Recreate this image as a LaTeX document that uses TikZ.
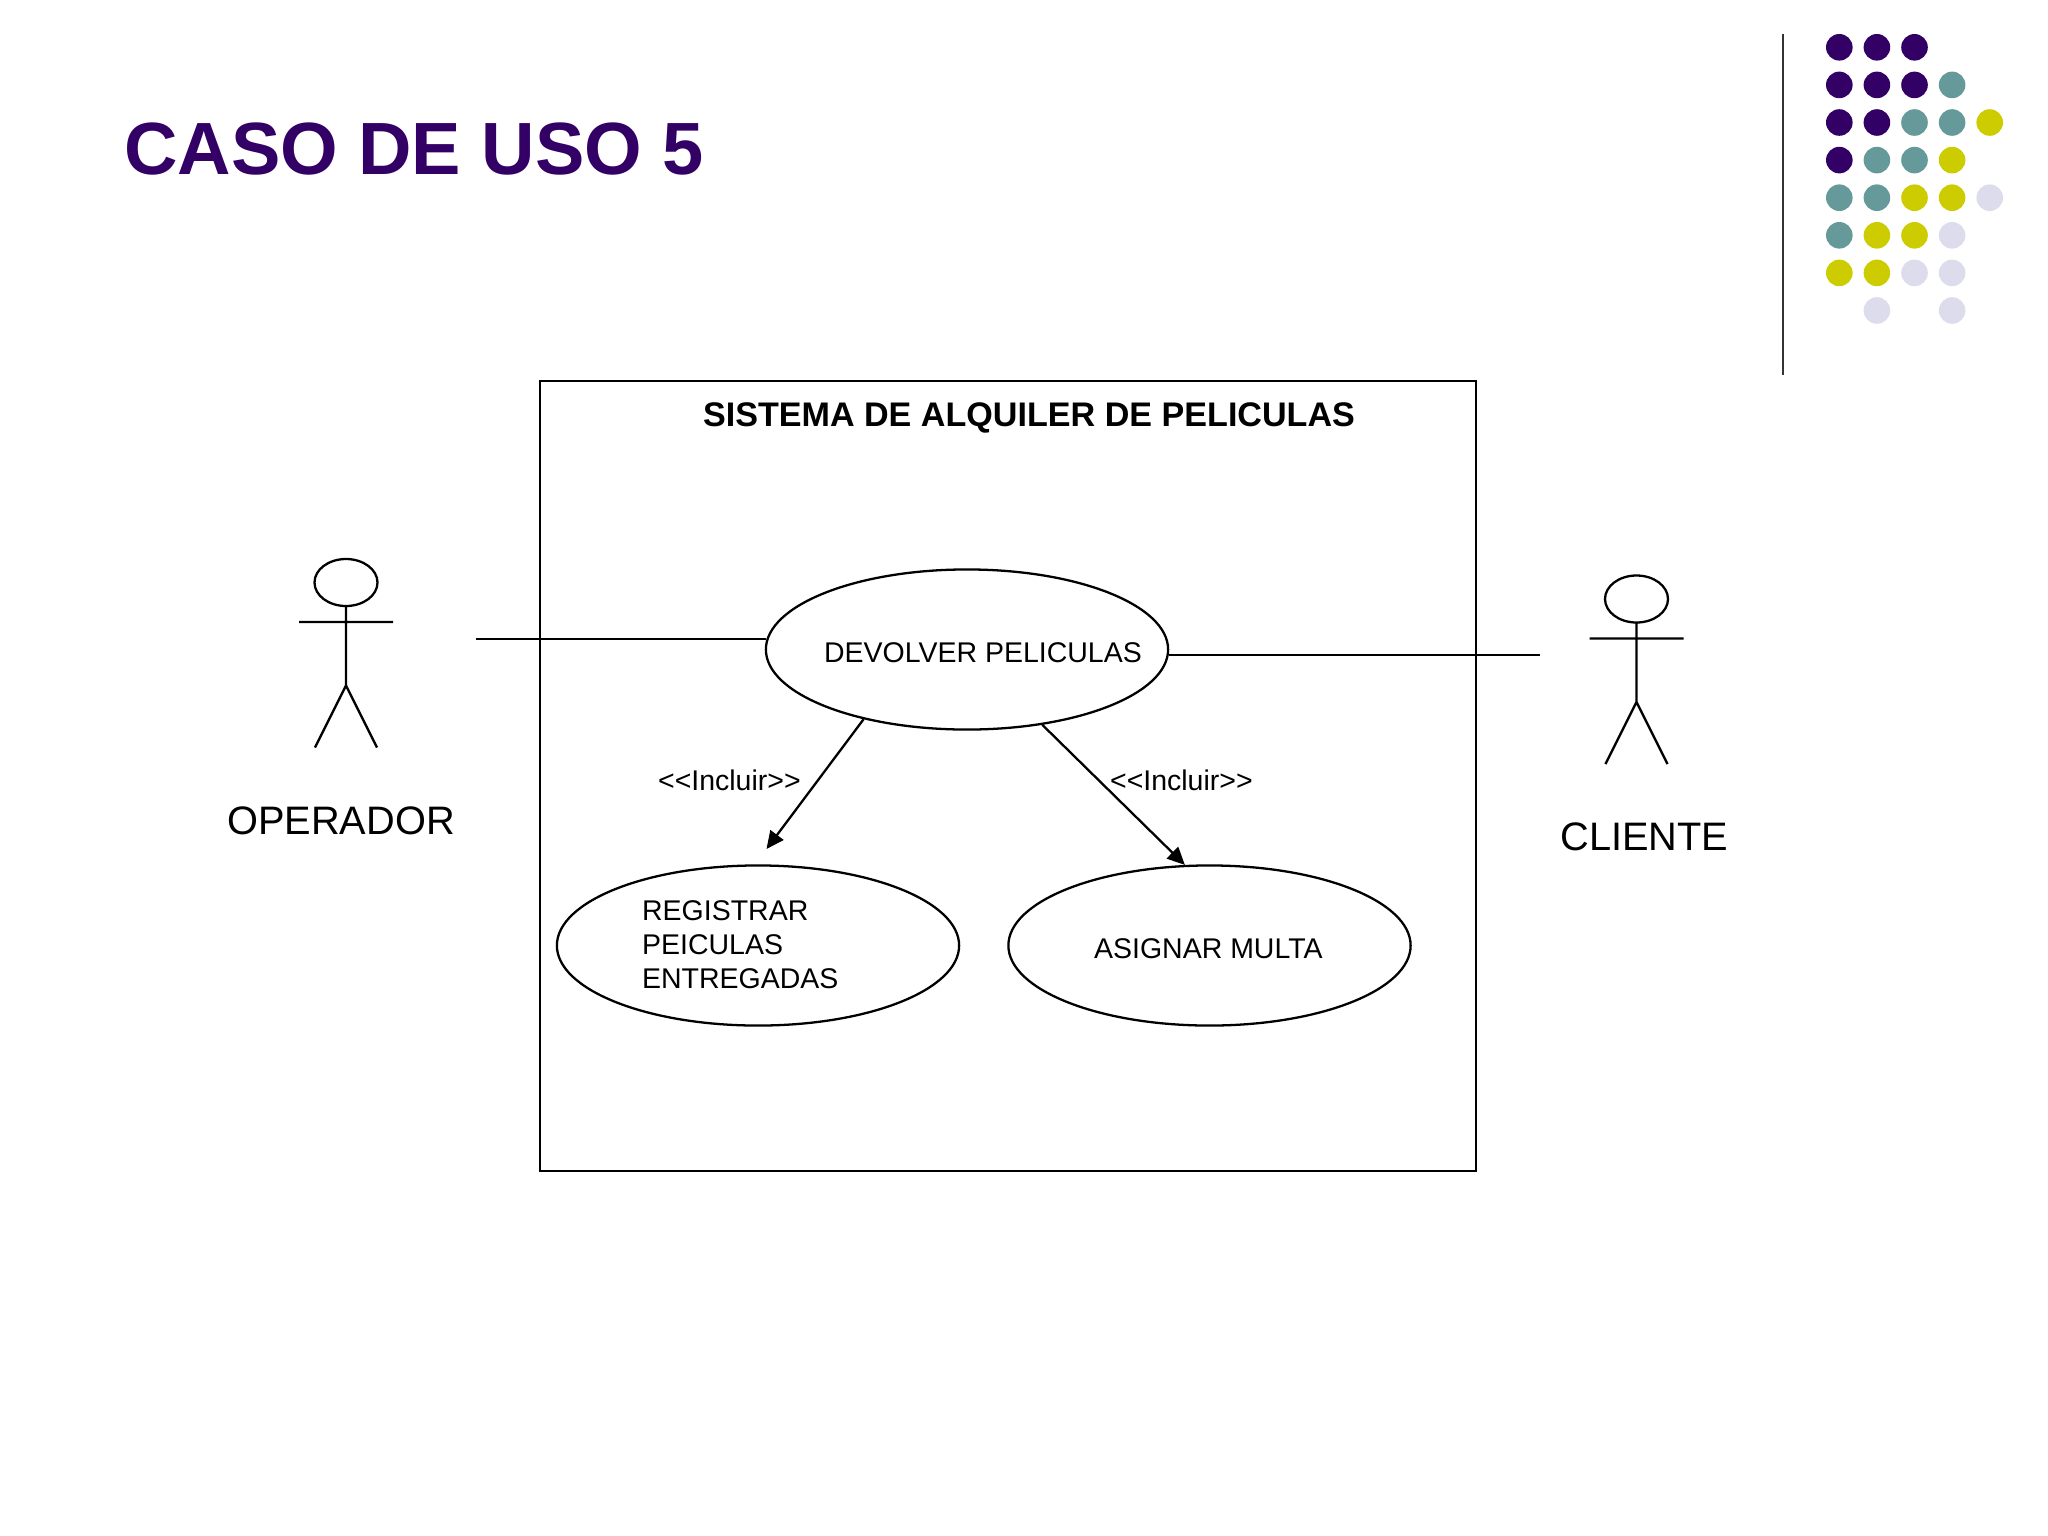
\documentclass[tikz,border=0pt]{standalone}
\usepackage{fontspec}
\setmainfont{Liberation Sans}
\usetikzlibrary{arrows.meta,shapes.geometric}

\definecolor{slidePurple}{HTML}{330066}
\definecolor{slideTeal}{HTML}{669999}
\definecolor{slideYellow}{HTML}{CCCC00}
\definecolor{slideLilac}{HTML}{DCDCEC}

\tikzset{
    usecase/.style={draw,ellipse,minimum width=4.02cm,minimum height=1.6cm,inner sep=0pt},
    lbl/.style={inner sep=0pt,font=\fontsize{8.1}{9.7}\selectfont},
    actorlbl/.style={inner sep=0pt,anchor=base,font=\fontsize{11.3}{13}\selectfont},
    incl/.style={-{Triangle[length=5pt,width=4.6pt]}},
}

\begin{document}
\begin{tikzpicture}[x=.01cm,y=-.01cm,line width=.65pt]

    \useasboundingbox (0,0) rectangle (2048,1536);

    \node [anchor=base west,inner sep=0pt,text=slidePurple,font=\fontsize{21.05}{25}\selectfont\bfseries] (title) at (123,174) {CASO DE USO 5};

    \draw [line width=.7pt,black!80] (1783,34) -- (1783,375);
    \foreach \r/\c in {1/1,1/2,1/3,2/1,2/2,2/3,3/1,3/2,4/1}
        \fill[slidePurple] ({1839.3+37.6*(\c-1)},{47.3+37.6*(\r-1)}) circle (13.3);
    \foreach \r/\c in {2/4,3/3,3/4,4/2,4/3,5/1,5/2,6/1}
        \fill[slideTeal] ({1839.3+37.6*(\c-1)},{47.3+37.6*(\r-1)}) circle (13.3);
    \foreach \r/\c in {3/5,4/4,5/3,5/4,6/2,6/3,7/1,7/2}
        \fill[slideYellow] ({1839.3+37.6*(\c-1)},{47.3+37.6*(\r-1)}) circle (13.3);
    \foreach \r/\c in {5/5,6/4,7/3,7/4,8/2,8/4}
        \fill[slideLilac] ({1839.3+37.6*(\c-1)},{47.3+37.6*(\r-1)}) circle (13.3);

    \node [draw,rectangle,inner sep=0pt,minimum width=9.36cm,minimum height=7.9cm] (sistema) at (1008,776) {};
    \node [anchor=base,inner sep=0pt,font=\fontsize{9.7}{12}\selectfont\bfseries] (sistemaLbl) at (1029,426) {SISTEMA DE ALQUILER DE PELICULAS};

    \node [usecase] (devolver) at (967,649.5) {};
    \node [usecase] (registrar) at (758,945.5) {};
    \node [usecase] (asignar) at (1209.5,945.5) {};

    \node [lbl,anchor=base west] (devolverLbl) at (823,662) {DEVOLVER PELICULAS};
    \node [lbl,anchor=west,align=left] (registrarLbl) at (641,944.5) {REGISTRAR\\PEICULAS\\ENTREGADAS};
    \node [lbl,anchor=base west] (asignarLbl) at (1093,958) {ASIGNAR MULTA};

    \def\stickFigure{
        (0,0) ellipse (31.5 and 23.5)
        (0,23.5) -- (0,103)
        (-47,39.5) -- (47,39.5)
        (-31,165) -- (0,103) -- (31,165)
    };
    \draw [shift={(346,582.5)}] \stickFigure;
    \draw [shift={(1636.5,599)}] \stickFigure;

    \node [actorlbl] (operador) at (341,834) {OPERADOR};
    \node [actorlbl] (cliente) at (1644.5,850) {CLIENTE};

    \coordinate (operadorEnd) at (476,639);
    \coordinate (clienteEnd) at (1540,655);
    \coordinate (registrarTip) at (766.5,849);

    \draw (operadorEnd) -- (operadorEnd -| devolver.177);
    \draw (clienteEnd) -- (clienteEnd -| devolver.east);

    \draw [incl] (devolver.214) -- (registrarTip);
    \draw [incl] (devolver.-45.5) -- (asignar.107);

    \node [lbl,anchor=base west] (inclA) at (657,790) {<{}<Incluir>{}>};
    \node [lbl,anchor=base west] (inclB) at (1109,790) {<{}<Incluir>{}>};

\end{tikzpicture}
\end{document}
